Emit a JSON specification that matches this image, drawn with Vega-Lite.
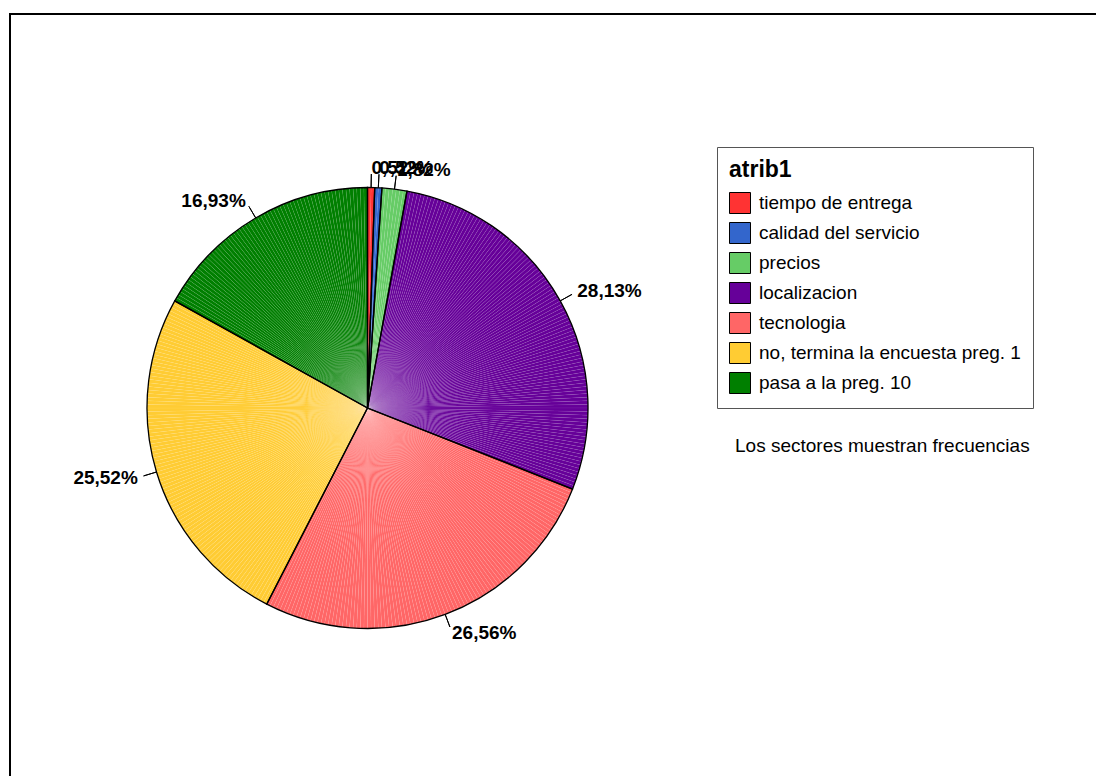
{
  "$schema": "https://vega.github.io/schema/vega-lite/v6.json",
  "width": 715,
  "height": 788,
  "autosize": "none",
  "padding": {"left": 10, "top": 14, "right": 371, "bottom": 0},
  "background": "white",
  "config": {"view": {"stroke": null}, "font": "Liberation Sans"},
  "title": {
    "text": "Los sectores muestran frecuencias",
    "orient": "top",
    "anchor": "start",
    "frame": "group",
    "baseline": "top",
    "offset": 0,
    "dx": 725,
    "dy": 443,
    "font": "Liberation Sans",
    "fontSize": 19,
    "fontWeight": "normal",
    "color": "black"
  },
  "datasets": {
    "cats": [
      {"g": 1, "atrib1": "tiempo de entrega", "n": 2, "pct": "0,52%"},
      {"g": 2, "atrib1": "calidad del servicio", "n": 2, "pct": "0,52%"},
      {"g": 3, "atrib1": "precios", "n": 7, "pct": "1,82%"},
      {"g": 4, "atrib1": "localizacion", "n": 108, "pct": "28,13%"},
      {"g": 5, "atrib1": "tecnologia", "n": 102, "pct": "26,56%"},
      {"g": 6, "atrib1": "no, termina la encuesta preg. 1", "n": 98, "pct": "25,52%"},
      {"g": 7, "atrib1": "pasa a la preg. 10", "n": 65, "pct": "16,93%"}
    ],
    "cases": [
      {"g":1},{"g":1},
      {"g":2},{"g":2},
      {"g":3},{"g":3},{"g":3},{"g":3},{"g":3},{"g":3},{"g":3},
      {"g":4},{"g":4},{"g":4},{"g":4},{"g":4},{"g":4},{"g":4},{"g":4},{"g":4},{"g":4},
      {"g":4},{"g":4},{"g":4},{"g":4},{"g":4},{"g":4},{"g":4},{"g":4},{"g":4},{"g":4},
      {"g":4},{"g":4},{"g":4},{"g":4},{"g":4},{"g":4},{"g":4},{"g":4},{"g":4},{"g":4},
      {"g":4},{"g":4},{"g":4},{"g":4},{"g":4},{"g":4},{"g":4},{"g":4},{"g":4},{"g":4},
      {"g":4},{"g":4},{"g":4},{"g":4},{"g":4},{"g":4},{"g":4},{"g":4},{"g":4},{"g":4},
      {"g":4},{"g":4},{"g":4},{"g":4},{"g":4},{"g":4},{"g":4},{"g":4},{"g":4},{"g":4},
      {"g":4},{"g":4},{"g":4},{"g":4},{"g":4},{"g":4},{"g":4},{"g":4},{"g":4},{"g":4},
      {"g":4},{"g":4},{"g":4},{"g":4},{"g":4},{"g":4},{"g":4},{"g":4},{"g":4},{"g":4},
      {"g":4},{"g":4},{"g":4},{"g":4},{"g":4},{"g":4},{"g":4},{"g":4},{"g":4},{"g":4},
      {"g":4},{"g":4},{"g":4},{"g":4},{"g":4},{"g":4},{"g":4},{"g":4},{"g":4},{"g":4},
      {"g":4},{"g":4},{"g":4},{"g":4},{"g":4},{"g":4},{"g":4},{"g":4},
      {"g":5},{"g":5},{"g":5},{"g":5},{"g":5},{"g":5},{"g":5},{"g":5},{"g":5},{"g":5},
      {"g":5},{"g":5},{"g":5},{"g":5},{"g":5},{"g":5},{"g":5},{"g":5},{"g":5},{"g":5},
      {"g":5},{"g":5},{"g":5},{"g":5},{"g":5},{"g":5},{"g":5},{"g":5},{"g":5},{"g":5},
      {"g":5},{"g":5},{"g":5},{"g":5},{"g":5},{"g":5},{"g":5},{"g":5},{"g":5},{"g":5},
      {"g":5},{"g":5},{"g":5},{"g":5},{"g":5},{"g":5},{"g":5},{"g":5},{"g":5},{"g":5},
      {"g":5},{"g":5},{"g":5},{"g":5},{"g":5},{"g":5},{"g":5},{"g":5},{"g":5},{"g":5},
      {"g":5},{"g":5},{"g":5},{"g":5},{"g":5},{"g":5},{"g":5},{"g":5},{"g":5},{"g":5},
      {"g":5},{"g":5},{"g":5},{"g":5},{"g":5},{"g":5},{"g":5},{"g":5},{"g":5},{"g":5},
      {"g":5},{"g":5},{"g":5},{"g":5},{"g":5},{"g":5},{"g":5},{"g":5},{"g":5},{"g":5},
      {"g":5},{"g":5},{"g":5},{"g":5},{"g":5},{"g":5},{"g":5},{"g":5},{"g":5},{"g":5},
      {"g":5},{"g":5},
      {"g":6},{"g":6},{"g":6},{"g":6},{"g":6},{"g":6},{"g":6},{"g":6},{"g":6},{"g":6},
      {"g":6},{"g":6},{"g":6},{"g":6},{"g":6},{"g":6},{"g":6},{"g":6},{"g":6},{"g":6},
      {"g":6},{"g":6},{"g":6},{"g":6},{"g":6},{"g":6},{"g":6},{"g":6},{"g":6},{"g":6},
      {"g":6},{"g":6},{"g":6},{"g":6},{"g":6},{"g":6},{"g":6},{"g":6},{"g":6},{"g":6},
      {"g":6},{"g":6},{"g":6},{"g":6},{"g":6},{"g":6},{"g":6},{"g":6},{"g":6},{"g":6},
      {"g":6},{"g":6},{"g":6},{"g":6},{"g":6},{"g":6},{"g":6},{"g":6},{"g":6},{"g":6},
      {"g":6},{"g":6},{"g":6},{"g":6},{"g":6},{"g":6},{"g":6},{"g":6},{"g":6},{"g":6},
      {"g":6},{"g":6},{"g":6},{"g":6},{"g":6},{"g":6},{"g":6},{"g":6},{"g":6},{"g":6},
      {"g":6},{"g":6},{"g":6},{"g":6},{"g":6},{"g":6},{"g":6},{"g":6},{"g":6},{"g":6},
      {"g":6},{"g":6},{"g":6},{"g":6},{"g":6},{"g":6},{"g":6},{"g":6},
      {"g":7},{"g":7},{"g":7},{"g":7},{"g":7},{"g":7},{"g":7},{"g":7},{"g":7},{"g":7},
      {"g":7},{"g":7},{"g":7},{"g":7},{"g":7},{"g":7},{"g":7},{"g":7},{"g":7},{"g":7},
      {"g":7},{"g":7},{"g":7},{"g":7},{"g":7},{"g":7},{"g":7},{"g":7},{"g":7},{"g":7},
      {"g":7},{"g":7},{"g":7},{"g":7},{"g":7},{"g":7},{"g":7},{"g":7},{"g":7},{"g":7},
      {"g":7},{"g":7},{"g":7},{"g":7},{"g":7},{"g":7},{"g":7},{"g":7},{"g":7},{"g":7},
      {"g":7},{"g":7},{"g":7},{"g":7},{"g":7},{"g":7},{"g":7},{"g":7},{"g":7},{"g":7},
      {"g":7},{"g":7},{"g":7},{"g":7},{"g":7}
    ]
  },
  "layer": [
    {
      "data": {"values": [{}]},
      "mark": {"type": "rect", "x": 0, "y": 0, "x2": 1300, "y2": 1000, "fill": "white", "fillOpacity": 0, "stroke": "black", "strokeWidth": 2},
      "encoding": {}
    },
    {
      "data": {"name": "cases"},
      "transform": [
        {"window": [{"op": "row_number", "as": "id"}]},
        {"lookup": "g", "from": {"data": {"name": "cats"}, "key": "g", "fields": ["atrib1"]}}
      ],
      "mark": {"type": "arc", "radius": 220.5, "stroke": "white", "strokeOpacity": 0.1, "strokeWidth": 0.5},
      "encoding": {
        "theta": {"aggregate": "count", "type": "quantitative"},
        "color": {
          "field": "atrib1",
          "type": "nominal",
          "scale": {
            "domain": ["tiempo de entrega", "calidad del servicio", "precios", "localizacion", "tecnologia", "no, termina la encuesta preg. 1", "pasa a la preg. 10"],
            "range": ["#ff3333", "#3366cc", "#66cc66", "#660099", "#ff6666", "#ffcc33", "#007f00"]
          },
          "legend": {
            "orient": "none",
            "legendX": 707,
            "legendY": 133,
            "title": "atrib1",
            "titleFont": "Liberation Sans",
            "titleFontSize": 23,
            "titleFontWeight": "bold",
            "titleColor": "black",
            "titlePadding": 10,
            "labelFont": "Liberation Sans",
            "labelFontSize": 19,
            "labelColor": "black",
            "labelOffset": 8,
            "labelLimit": 400,
            "symbolType": "square",
            "symbolSize": 441,
            "symbolStrokeColor": "black",
            "symbolStrokeWidth": 1,
            "symbolOpacity": 1,
            "rowPadding": 4,
            "padding": 12,
            "strokeColor": "#555555",
            "fillColor": "white"
          }
        },
        "detail": {"field": "id"},
        "order": {"field": "g", "type": "quantitative"}
      }
    },
    {
      "data": {"name": "cats"},
      "mark": {"type": "arc", "radius": 220.5, "fillOpacity": 0, "stroke": "black", "strokeWidth": 1.3},
      "encoding": {
        "theta": {"field": "n", "type": "quantitative"},
        "detail": {"field": "g"},
        "order": {"field": "g", "type": "quantitative"}
      }
    },
    {
      "data": {"name": "cats"},
      "transform": [
        {"window": [{"op": "sum", "field": "n", "as": "cum"}], "sort": [{"field": "g"}]},
        {"calculate": "datum.cum - datum.n / 2", "as": "mid"}
      ],
      "mark": {"type": "arc", "radius": 234, "radius2": 220.5, "stroke": "black", "strokeWidth": 1},
      "encoding": {
        "theta": {"field": "mid", "type": "quantitative", "stack": null},
        "theta2": {"field": "mid"}
      }
    },
    {
      "data": {"name": "cats"},
      "transform": [
        {"window": [{"op": "sum", "field": "n", "as": "cum"}], "sort": [{"field": "g"}]},
        {"calculate": "datum.cum - datum.n / 2", "as": "mid"},
        {"filter": "datum.mid < 192"}
      ],
      "mark": {"type": "text", "radius": 240, "align": "left", "baseline": "middle", "font": "Liberation Sans", "fontSize": 19, "fontWeight": "bold", "color": "black"},
      "encoding": {
        "theta": {"field": "mid", "type": "quantitative", "stack": null},
        "text": {"field": "pct"}
      }
    },
    {
      "data": {"name": "cats"},
      "transform": [
        {"window": [{"op": "sum", "field": "n", "as": "cum"}], "sort": [{"field": "g"}]},
        {"calculate": "datum.cum - datum.n / 2", "as": "mid"},
        {"filter": "datum.mid >= 192"}
      ],
      "mark": {"type": "text", "radius": 240, "align": "right", "baseline": "middle", "font": "Liberation Sans", "fontSize": 19, "fontWeight": "bold", "color": "black"},
      "encoding": {
        "theta": {"field": "mid", "type": "quantitative", "stack": null},
        "text": {"field": "pct"}
      }
    }
  ]
}
